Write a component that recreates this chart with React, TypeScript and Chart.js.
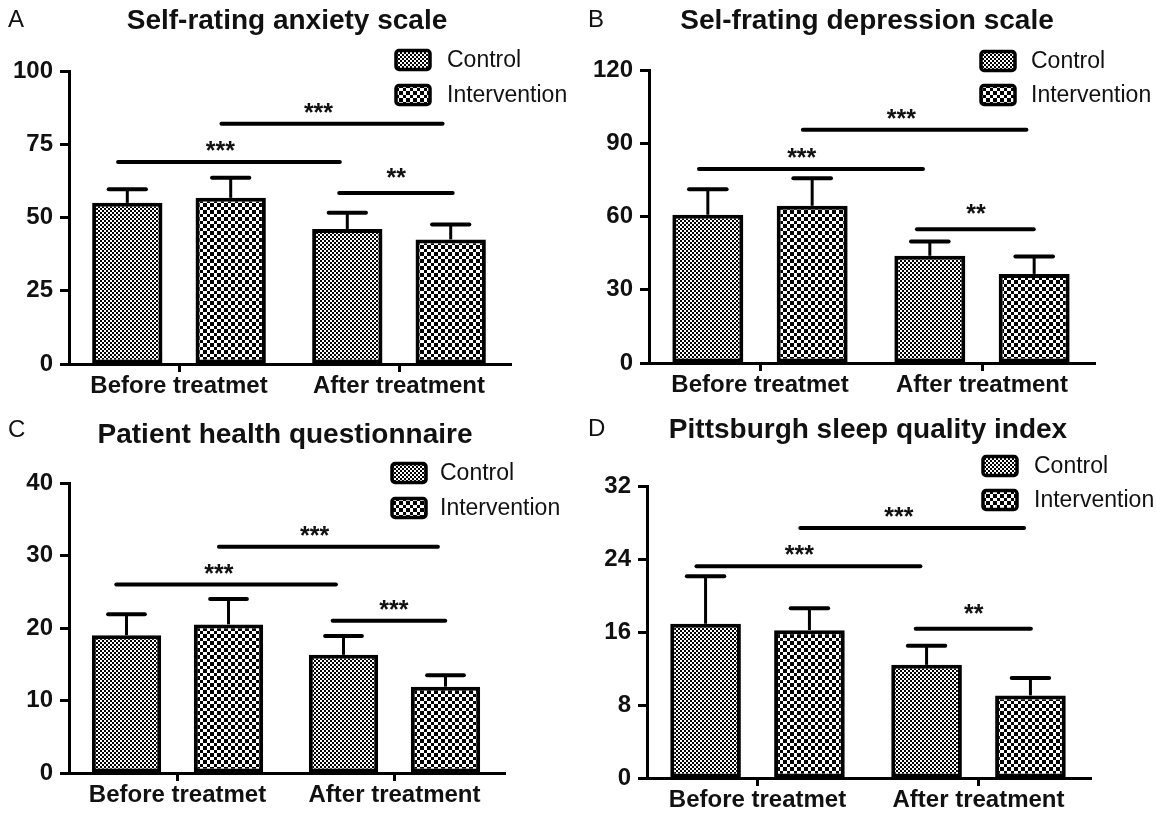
import React, { useEffect, useRef } from "react";
import { Chart, registerables } from "chart.js";

Chart.register(...registerables);

// ---------- data ----------
const CATEGORIES = ["Before treatmet", "After treatment"];
const SERIES_NAMES = ["Control", "Intervention"];

// Panel A
const A_TITLE = "Self-rating anxiety scale";
const A_CONTROL = [55.0, 46.1];
const A_CONTROL_SD = [4.6, 5.5];
const A_INTERVENTION = [56.7, 42.5];
const A_INTERVENTION_SD = [6.9, 5.1];
const A_MAX = 100;
const A_STEP = 25;
const A_SIG_FROM = [-0.277, 0.193, 0.728];
const A_SIG_TO = [0.731, 1.198, 1.244];
const A_SIG_Y = [68.9, 82.0, 58.4];
const A_SIG_LABEL = ["***", "***", "**"];
const A_SIG_LABEL_AT = [0.188, 0.634, 0.987];

// Panel B
const B_TITLE = "Sel-frating depression scale";
const B_CONTROL = [60.7, 43.9];
const B_CONTROL_SD = [10.5, 5.9];
const B_INTERVENTION = [64.4, 36.5];
const B_INTERVENTION_SD = [11.3, 7.1];
const B_MAX = 120;
const B_STEP = 30;
const B_SIG_FROM = [-0.275, 0.193, 0.707];
const B_SIG_TO = [0.734, 1.2, 1.233];
const B_SIG_Y = [79.5, 95.5, 54.8];
const B_SIG_LABEL = ["***", "***", "**"];
const B_SIG_LABEL_AT = [0.188, 0.637, 0.973];

// Panel C
const C_TITLE = "Patient health questionnaire";
const C_CONTROL = [19.0, 16.3];
const C_CONTROL_SD = [2.9, 2.6];
const C_INTERVENTION = [20.5, 11.9];
const C_INTERVENTION_SD = [3.5, 1.6];
const C_MAX = 40;
const C_STEP = 10;
const C_SIG_FROM = [-0.282, 0.191, 0.715];
const C_SIG_TO = [0.73, 1.2, 1.234];
const C_SIG_Y = [26.0, 31.2, 21.0];
const C_SIG_LABEL = ["***", "***", "***"];
const C_SIG_LABEL_AT = [0.191, 0.632, 0.997];

// Panel D
const D_TITLE = "Pittsburgh sleep quality index";
const D_CONTROL = [16.9, 12.4];
const D_CONTROL_SD = [5.2, 2.1];
const D_INTERVENTION = [16.2, 9.05];
const D_INTERVENTION_SD = [2.4, 1.9];
const D_MAX = 32;
const D_STEP = 8;
const D_SIG_FROM = [-0.276, 0.194, 0.716];
const D_SIG_TO = [0.737, 1.206, 1.237];
const D_SIG_Y = [23.2, 27.4, 16.35];
const D_SIG_LABEL = ["***", "***", "**"];
const D_SIG_LABEL_AT = [0.189, 0.64, 0.978];

// ---------- layout / style ----------
const FONT = "'Liberation Sans', Arial, Helvetica, sans-serif";
const INK = "#111";

type Layout = {
  letter: string;
  left: number; top: number; w: number; h: number;
  area: { l: number; r: number; t: number; b: number };
  letterX: number; letterY: number;
  titleX: number; titleY: number;
  boxX: number; textX: number; rows: number[];
};

const PANELS: { layout: Layout; data: any }[] = [
  {
    layout: { letter: "A", left: 0, top: 0, w: 580, h: 410, area: { l: 69, r: 509, t: 71, b: 364 }, letterX: 8, letterY: 27, titleX: 287, titleY: 29, boxX: 396, textX: 447, rows: [60, 95] },
    data: { title: A_TITLE, c: A_CONTROL, cs: A_CONTROL_SD, i: A_INTERVENTION, is: A_INTERVENTION_SD, max: A_MAX, step: A_STEP, from: A_SIG_FROM, to: A_SIG_TO, y: A_SIG_Y, lab: A_SIG_LABEL, labAt: A_SIG_LABEL_AT },
  },
  {
    layout: { letter: "B", left: 580, top: 0, w: 576, h: 410, area: { l: 69, r: 513, t: 70, b: 363 }, letterX: 8, letterY: 27, titleX: 287, titleY: 29, boxX: 401, textX: 451, rows: [61, 95] },
    data: { title: B_TITLE, c: B_CONTROL, cs: B_CONTROL_SD, i: B_INTERVENTION, is: B_INTERVENTION_SD, max: B_MAX, step: B_STEP, from: B_SIG_FROM, to: B_SIG_TO, y: B_SIG_Y, lab: B_SIG_LABEL, labAt: B_SIG_LABEL_AT },
  },
  {
    layout: { letter: "C", left: 0, top: 410, w: 580, h: 405, area: { l: 69, r: 503, t: 73, b: 363 }, letterX: 8, letterY: 27, titleX: 285, titleY: 33, boxX: 392, textX: 440, rows: [63, 98] },
    data: { title: C_TITLE, c: C_CONTROL, cs: C_CONTROL_SD, i: C_INTERVENTION, is: C_INTERVENTION_SD, max: C_MAX, step: C_STEP, from: C_SIG_FROM, to: C_SIG_TO, y: C_SIG_Y, lab: C_SIG_LABEL, labAt: C_SIG_LABEL_AT },
  },
  {
    layout: { letter: "D", left: 580, top: 410, w: 576, h: 405, area: { l: 67, r: 509, t: 76, b: 368 }, letterX: 8, letterY: 26, titleX: 288, titleY: 28, boxX: 403, textX: 454, rows: [56, 90] },
    data: { title: D_TITLE, c: D_CONTROL, cs: D_CONTROL_SD, i: D_INTERVENTION, is: D_INTERVENTION_SD, max: D_MAX, step: D_STEP, from: D_SIG_FROM, to: D_SIG_TO, y: D_SIG_Y, lab: D_SIG_LABEL, labAt: D_SIG_LABEL_AT },
  },
];

function makeChecker(ctx: CanvasRenderingContext2D, bounds: number[]) {
  const size = bounds[bounds.length - 1];
  const tile = document.createElement("canvas");
  tile.width = size;
  tile.height = size;
  const t = tile.getContext("2d")!;
  t.fillStyle = "#fff";
  t.fillRect(0, 0, size, size);
  t.fillStyle = "#000";
  for (let r = 0; r < bounds.length - 1; r++) {
    for (let c = 0; c < bounds.length - 1; c++) {
      if ((r + c) % 2 === 0) {
        t.fillRect(bounds[c], bounds[r], bounds[c + 1] - bounds[c], bounds[r + 1] - bounds[r]);
      }
    }
  }
  return ctx.createPattern(tile, "repeat")!;
}

function Panel({ layout, data }: { layout: Layout; data: any }) {
  const ref = useRef<HTMLCanvasElement | null>(null);

  useEffect(() => {
    const canvas = ref.current!;
    const ctx = canvas.getContext("2d")!;
    const fine = makeChecker(ctx, [0, 2, 4]);
    const coarse = makeChecker(ctx, [0, 4, 7, 11, 14]);
    const patterns = [fine, coarse];
    const sds = [data.cs, data.is];

    const overlay = {
      id: "overlay",
      afterDatasetsDraw(chart: any) {
        const c = chart.ctx as CanvasRenderingContext2D;
        const xs = chart.scales.x;
        const ys = chart.scales.y;
        const area = chart.chartArea;
        c.save();
        // x axis line (extends slightly past the y axis like the original)
        c.strokeStyle = "#000";
        c.lineWidth = 3;
        c.beginPath();
        c.moveTo(area.left - 9, area.bottom + 0.5);
        c.lineTo(area.right + 3, area.bottom + 0.5);
        c.stroke();

        // error bars
        chart.data.datasets.forEach((ds: any, di: number) => {
          const meta = chart.getDatasetMeta(di);
          meta.data.forEach((bar: any, j: number) => {
            const top = ys.getPixelForValue(ds.data[j] + sds[di][j]);
            const base = bar.y;
            c.strokeStyle = "#000";
            c.lineWidth = 3;
            c.lineCap = "butt";
            c.beginPath();
            c.moveTo(bar.x, base);
            c.lineTo(bar.x, top);
            c.stroke();
            const capW = bar.width * 0.53;
            c.lineWidth = 4;
            c.lineCap = "round";
            c.beginPath();
            c.moveTo(bar.x - capW / 2, top);
            c.lineTo(bar.x + capW / 2, top);
            c.stroke();
          });
        });

        // significance lines
        data.from.forEach((f: number, k: number) => {
          const x1 = xs.getPixelForValue(f);
          const x2 = xs.getPixelForValue(data.to[k]);
          const y = ys.getPixelForValue(data.y[k]);
          c.strokeStyle = "#000";
          c.lineWidth = 4;
          c.lineCap = "round";
          c.beginPath();
          c.moveTo(x1, y);
          c.lineTo(x2, y);
          c.stroke();
          const lx = xs.getPixelForValue(data.labAt[k]);
          c.fillStyle = INK;
          c.font = `bold 25px ${FONT}`;
          c.textAlign = "center";
          c.textBaseline = "alphabetic";
          const lift = data.lab[k].length === 2 ? 7 : 3;
          c.fillText(data.lab[k], lx, y - lift);
        });

        // title and letter
        c.fillStyle = INK;
        c.textAlign = "center";
        c.textBaseline = "alphabetic";
        c.font = `bold 28px ${FONT}`;
        c.fillText(data.title, layout.titleX, layout.titleY);
        c.textAlign = "left";
        c.font = `24px ${FONT}`;
        c.fillText(layout.letter, layout.letterX, layout.letterY);

        // legend
        chart.data.datasets.forEach((ds: any, di: number) => {
          const cy = layout.rows[di];
          const bx = layout.boxX;
          c.beginPath();
          (c as any).roundRect(bx, cy - 9.5, 34, 19, 3);
          c.fillStyle = ds.backgroundColor;
          c.fill();
          c.strokeStyle = "#000";
          c.lineWidth = 3.5;
          c.stroke();
          c.fillStyle = INK;
          c.font = `23px ${FONT}`;
          c.textAlign = "left";
          c.textBaseline = "middle";
          c.fillText(ds.label, layout.textX, cy + 1);
        });
        c.restore();
      },
    };

    const a = layout.area;
    const chart = new Chart(canvas, {
      type: "bar",
      data: {
        labels: CATEGORIES,
        datasets: [
          { label: SERIES_NAMES[0], data: data.c, backgroundColor: patterns[0], borderColor: "#000", borderWidth: 4, borderSkipped: false },
          { label: SERIES_NAMES[1], data: data.i, backgroundColor: patterns[1], borderColor: "#000", borderWidth: 4, borderSkipped: false },
        ],
      },
      options: {
        animation: false,
        responsive: false,
        devicePixelRatio: 1,
        layout: { padding: { left: 0, top: a.t, right: layout.w - a.r, bottom: 0 } },
        datasets: { bar: { categoryPercentage: 0.94, barPercentage: 0.68 } },
        plugins: { legend: { display: false }, title: { display: false }, tooltip: { enabled: false } },
        scales: {
          x: {
            type: "category",
            offset: true,
            grid: { offset: false, drawOnChartArea: false, drawTicks: true, tickLength: 8, tickWidth: 3, tickColor: "#000" },
            border: { display: false },
            ticks: { color: INK, font: { family: FONT, size: 24, weight: "bold" }, padding: 0, maxRotation: 0, autoSkip: false },
            afterFit: (s: any) => { s.height = layout.h - a.b; },
          },
          y: {
            min: 0,
            max: data.max,
            grid: { drawOnChartArea: false, drawTicks: true, tickLength: 9, tickWidth: 3, tickColor: "#000" },
            border: { display: true, width: 3, color: "#000" },
            ticks: { stepSize: data.step, color: INK, font: { family: FONT, size: 24, weight: "bold" }, padding: 7 },
            afterFit: (s: any) => { s.width = a.l; },
          },
        },
      } as any,
      plugins: [overlay],
    });
    return () => chart.destroy();
  }, []);

  return (
    <canvas
      ref={ref}
      width={layout.w}
      height={layout.h}
      style={{ position: "absolute", left: layout.left, top: layout.top, width: layout.w, height: layout.h }}
    />
  );
}

export default function App() {
  return (
    <div style={{ position: "absolute", left: 0, top: 0, width: 1156, height: 815, background: "#fff" }}>
      {PANELS.map((p) => (
        <Panel key={p.layout.letter} layout={p.layout} data={p.data} />
      ))}
    </div>
  );
}
